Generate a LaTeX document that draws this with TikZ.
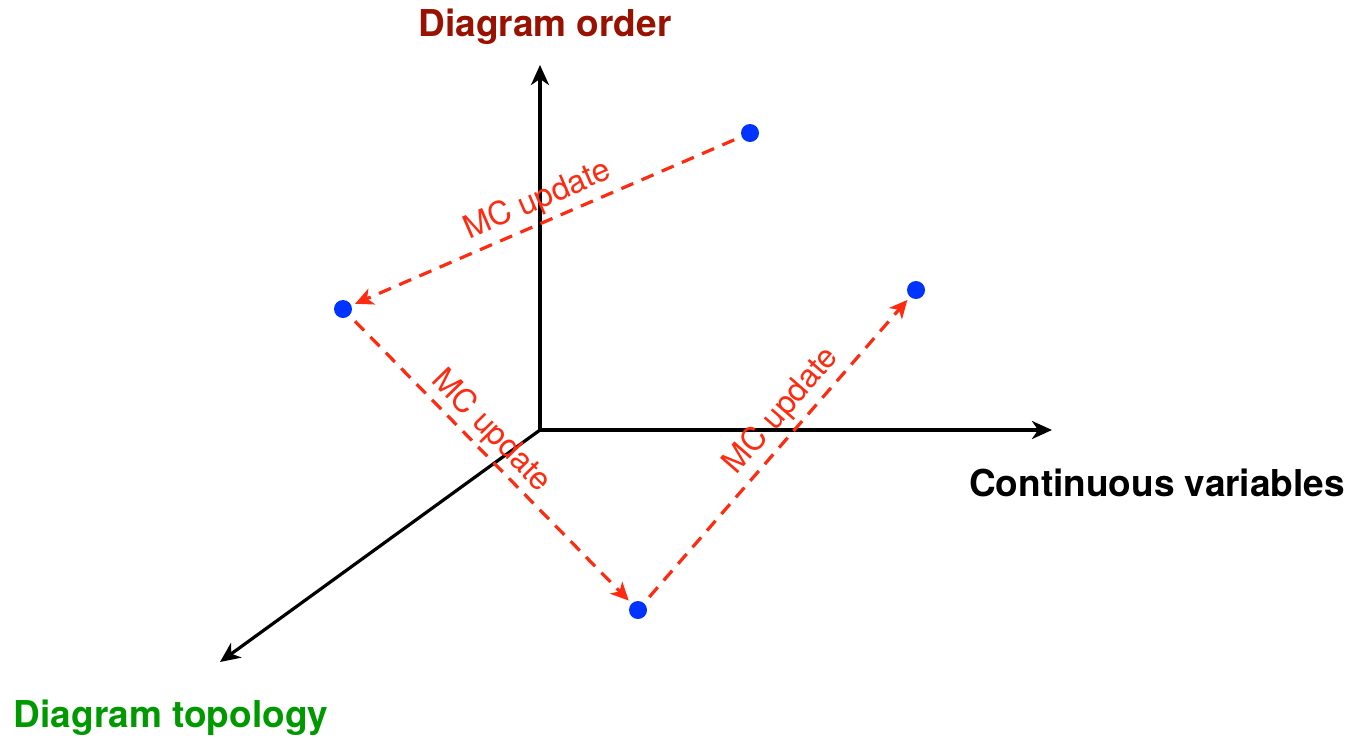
\documentclass[tikz,border=0pt]{standalone}
\usepackage{fontspec}
\setmainfont{TeX Gyre Heros}
\usetikzlibrary{arrows.meta}
\definecolor{mcred}{HTML}{FF2A10}
\definecolor{dotblue}{HTML}{0033FF}
\definecolor{ordred}{HTML}{991100}
\definecolor{topgreen}{HTML}{009900}
\begin{document}
\begin{tikzpicture}[x=1pt,y=-1pt,
  axis/.style={line width=3.2pt, -{Stealth[length=20pt,width=18pt,inset=6pt]}},
  mc/.style={draw=mcred, line width=3.2pt, dash pattern=on 13pt off 9pt,
     -{Stealth[length=18pt,width=17pt,inset=5pt]}, shorten >=4pt, shorten <=8pt},
  dot/.style={circle, fill=dotblue, minimum size=18pt, inner sep=0pt},
  mclabel/.style={text=mcred, font=\fontsize{32}{38}\selectfont, sloped, above, inner sep=5pt},
  axlabel/.style={font=\fontsize{37}{44}\selectfont\bfseries}]
\useasboundingbox (0,0) rectangle (1361,737);
% axes
\coordinate (O) at (540,430);
\coordinate (Ztop) at (540,65);
\coordinate (Xend) at (1052,430);
\coordinate (Yend) at (220,662);
\draw[axis] (O) -- (Ztop);
\draw[axis] (O) -- (Xend);
\draw[axis] (O) -- (Yend);
% axis labels
\node[axlabel, text=ordred] (lorder) at (545,27) {Diagram order};
\node[axlabel, text=black] (lcont) at (1157,483) {Continuous variables};
\node[axlabel, text=topgreen] (ltopo) at (171,718) {Diagram topology};
% points
\node[dot] (A) at (750,133) {};
\node[dot] (B) at (343,309) {};
\node[dot] (C) at (638,610) {};
\node[dot] (D) at (916,290) {};
% updates
\draw[mc] (A) -- node[mclabel, pos=0.5] (m1) {MC update} (B);
\draw[mc] (B) -- node[mclabel, pos=0.45, inner sep=3pt] (m2) {MC update} (C);
\draw[mc] (C) -- node[mclabel, pos=0.58] (m3) {MC update} (D);
\end{tikzpicture}
\end{document}
